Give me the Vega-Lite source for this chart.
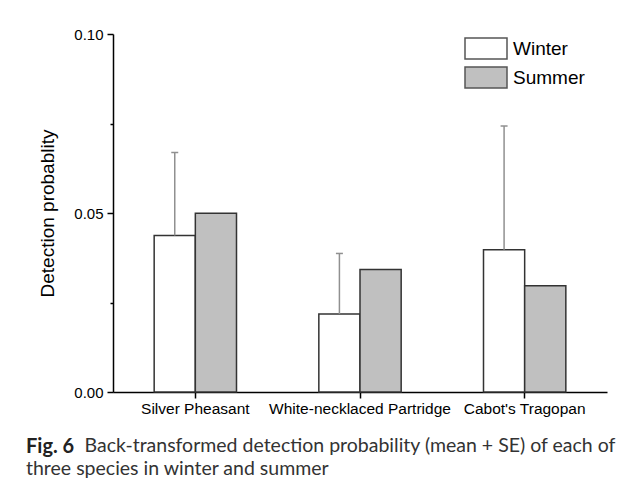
{
  "$schema": "https://vega.github.io/schema/vega-lite/v6.json",
  "autosize": "none",
  "width": 494,
  "height": 358,
  "padding": {"left": 113, "top": 34, "right": 20, "bottom": 99},
  "background": "#ffffff",
  "data": {
    "values": [
      {"species": "Silver Pheasant", "season": "Winter", "value": 0.0437, "upper": 0.0669},
      {"species": "Silver Pheasant", "season": "Summer", "value": 0.0499, "upper": null},
      {"species": "White-necklaced Partridge", "season": "Winter", "value": 0.0218, "upper": 0.0387},
      {"species": "White-necklaced Partridge", "season": "Summer", "value": 0.0342, "upper": null},
      {"species": "Cabot's Tragopan", "season": "Winter", "value": 0.0397, "upper": 0.0743},
      {"species": "Cabot's Tragopan", "season": "Summer", "value": 0.0297, "upper": null}
    ]
  },
  "title": {
    "text": "Fig. 6",
    "subtitle": ["\u200b\u2003\u2003\u2003\u2003Back-transformed detection probability (mean + SE) of each of", "three species in winter and summer"],
    "orient": "bottom",
    "anchor": "start",
    "frame": "group",
    "dx": -87,
    "offset": 20,
    "font": "Lato",
    "fontSize": 20,
    "fontWeight": "bold",
    "color": "#222",
    "subtitleFont": "Lato",
    "subtitleFontSize": 19.5,
    "subtitleColor": "#333",
    "subtitlePadding": -20,
    "subtitleLineHeight": 23
  },
  "encoding": {
    "x": {
      "field": "species",
      "type": "nominal",
      "sort": ["Silver Pheasant", "White-necklaced Partridge", "Cabot's Tragopan"],
      "scale": {"paddingInner": 0.5, "paddingOuter": 0.25},
      "axis": {"title": null, "labelAngle": 0, "tickSize": 6, "labelPadding": 3, "labelFontSize": 15.5, "labelLimit": 300}
    },
    "xOffset": {
      "field": "season",
      "type": "nominal",
      "sort": ["Winter", "Summer"],
      "scale": {"domain": ["Winter", "Summer"], "paddingInner": 0, "paddingOuter": 0}
    }
  },
  "layer": [
    {
      "mark": {"type": "bar", "stroke": "#333333", "strokeWidth": 1.5, "opacity": 1},
      "encoding": {
        "y": {
          "field": "value",
          "type": "quantitative",
          "scale": {"domain": [0, 0.1], "nice": false},
          "axis": {
            "values": [0, 0.025, 0.05, 0.075, 0.1],
            "labelExpr": "round(datum.value*1000) % 50 == 0 ? format(datum.value, '.2f') : ''",
            "tickSize": {"condition": {"test": "round(datum.value*1000) % 50 != 0", "value": 3}, "value": 6},
            "labelPadding": 4,
            "title": "Detection probablity",
            "titleFontSize": 19,
            "titleFontWeight": "normal",
            "titlePadding": 16
          }
        },
        "fill": {
          "field": "season",
          "type": "nominal",
          "sort": ["Winter", "Summer"],
          "scale": {"domain": ["Winter", "Summer"], "range": ["#ffffff", "#c0c0c0"]},
          "legend": {
            "title": null,
            "orient": "none",
            "legendX": 351,
            "legendY": 3,
            "symbolType": "M-1,-1H3V1H-1Z",
            "symbolSize": 441,
            "symbolStrokeColor": "#555555",
            "symbolStrokeWidth": 1.5,
            "symbolOpacity": 1,
            "labelFontSize": 19,
            "labelFont": "Liberation Sans",
            "labelColor": "#000000",
            "labelOffset": 26,
            "rowPadding": 2
          }
        }
      }
    },
    {
      "transform": [{"filter": "datum.upper != null"}],
      "mark": {"type": "rule", "color": "#909090", "strokeWidth": 1.5},
      "encoding": {
        "y": {"field": "value", "type": "quantitative"},
        "y2": {"field": "upper"}
      }
    },
    {
      "transform": [{"filter": "datum.upper != null"}],
      "mark": {"type": "tick", "color": "#909090", "size": 7, "thickness": 1.5, "orient": "horizontal", "opacity": 1},
      "encoding": {
        "y": {"field": "upper", "type": "quantitative"}
      }
    }
  ],
  "config": {
    "view": {"stroke": null},
    "axis": {
      "grid": false,
      "domainColor": "#000000",
      "domainWidth": 1.5,
      "tickColor": "#000000",
      "tickWidth": 1.5,
      "labelFont": "Liberation Sans",
      "labelColor": "#000000",
      "labelFontSize": 15,
      "titleFont": "Liberation Sans",
      "titleColor": "#000000"
    }
  }
}
